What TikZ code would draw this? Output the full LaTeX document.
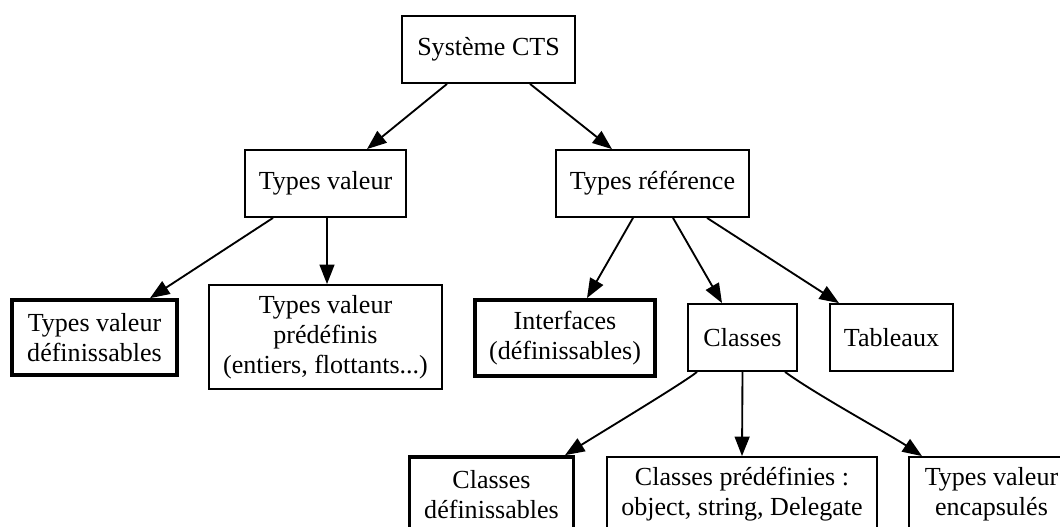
\documentclass[tikz,border=0pt]{standalone}
\usepackage{fontspec}
\setmainfont{Liberation Serif}
\usetikzlibrary{arrows.meta,calc}
\begin{document}
\begin{tikzpicture}[x=0.5376pt,y=-0.5376pt,
  box/.style={draw, line width=1pt, rectangle, inner sep=0pt, align=center,
              font=\fontsize{14}{16}\selectfont},
  thickbox/.style={box, line width=2pt},
  arr/.style={-{Triangle[length=10.5pt,width=8pt]}, line width=1pt}]
\clip (0,0) rectangle (1060,526);
% level 0
\node[box, minimum width=93pt, minimum height=36pt] (sys) at (488.5,49.5) {Système CTS};
% level 1
\node[box, minimum width=86.6pt, minimum height=36pt] (tv) at (325.5,183.5) {Types valeur};
\node[box, minimum width=103.8pt, minimum height=36pt] (tr) at (652.5,183.5) {Types référence};
% level 2
\node[thickbox, minimum width=88.7pt, minimum height=40.3pt] (tvd) at (94.5,337.5) {Types valeur\\définissables};
\node[box, minimum width=125.3pt, minimum height=55.9pt] (tvp) at (325.5,337) {Types valeur\\prédéfinis\\(entiers, flottants...)};
\node[thickbox, minimum width=96.8pt, minimum height=40.9pt] (itf) at (565,338) {Interfaces\\(définissables)};
\node[box, minimum width=58.6pt, minimum height=36pt] (cls) at (742.5,337.5) {Classes};
\node[box, minimum width=66.1pt, minimum height=36pt] (tab) at (891.5,337.5) {Tableaux};
% level 3
\node[thickbox, minimum width=88.2pt, minimum height=40.3pt] (cd) at (491.5,494.5) {Classes\\définissables};
\node[box, minimum width=145.2pt, minimum height=40.3pt] (cp) at (742,494.5) {Classes prédéfinies :\\object, string, Delegate};
\node[box, minimum width=88.7pt, minimum height=40.3pt] (enc) at (991.5,494.5) {Types valeur\\encapsulés};
% edges
\draw[arr] ($(sys.south)+(-41.5,0)$) -- ($(tv.north)+(41.5,0)$);
\draw[arr] ($(sys.south)+(41.5,0)$) -- ($(tr.north)+(-40.5,0)$);
\draw[arr] ($(tv.south)+(-52.5,0)$) -- ($(tvd.north)+(55.5,0)$);
\draw[arr] ($(tv.south)+(1.5,0)$) -- ($(tvp.north)+(1.5,0)$);
\draw[arr] ($(tr.south)+(-19.5,0)$) -- ($(itf.north)+(22,0)$);
\draw[arr] ($(tr.south)+(20.5,0)$) -- ($(cls.north)+(-20.5,0)$);
\draw[arr] ($(tr.south)+(54.5,0)$) -- ($(tab.north)+(-52.5,0)$);
\draw[arr] ($(cls.south)+(-45.5,0)$) .. controls +(-12,10) and +(35,-22) .. ($(cd.north)+(73.5,0)$);
\draw[arr] (cls.south) -- (cp.north);
\draw[arr] ($(cls.south)+(42.5,0)$) .. controls +(30,22) and +(-30,-20) .. ($(enc.north)+(-69.5,0)$);
\end{tikzpicture}
\end{document}
